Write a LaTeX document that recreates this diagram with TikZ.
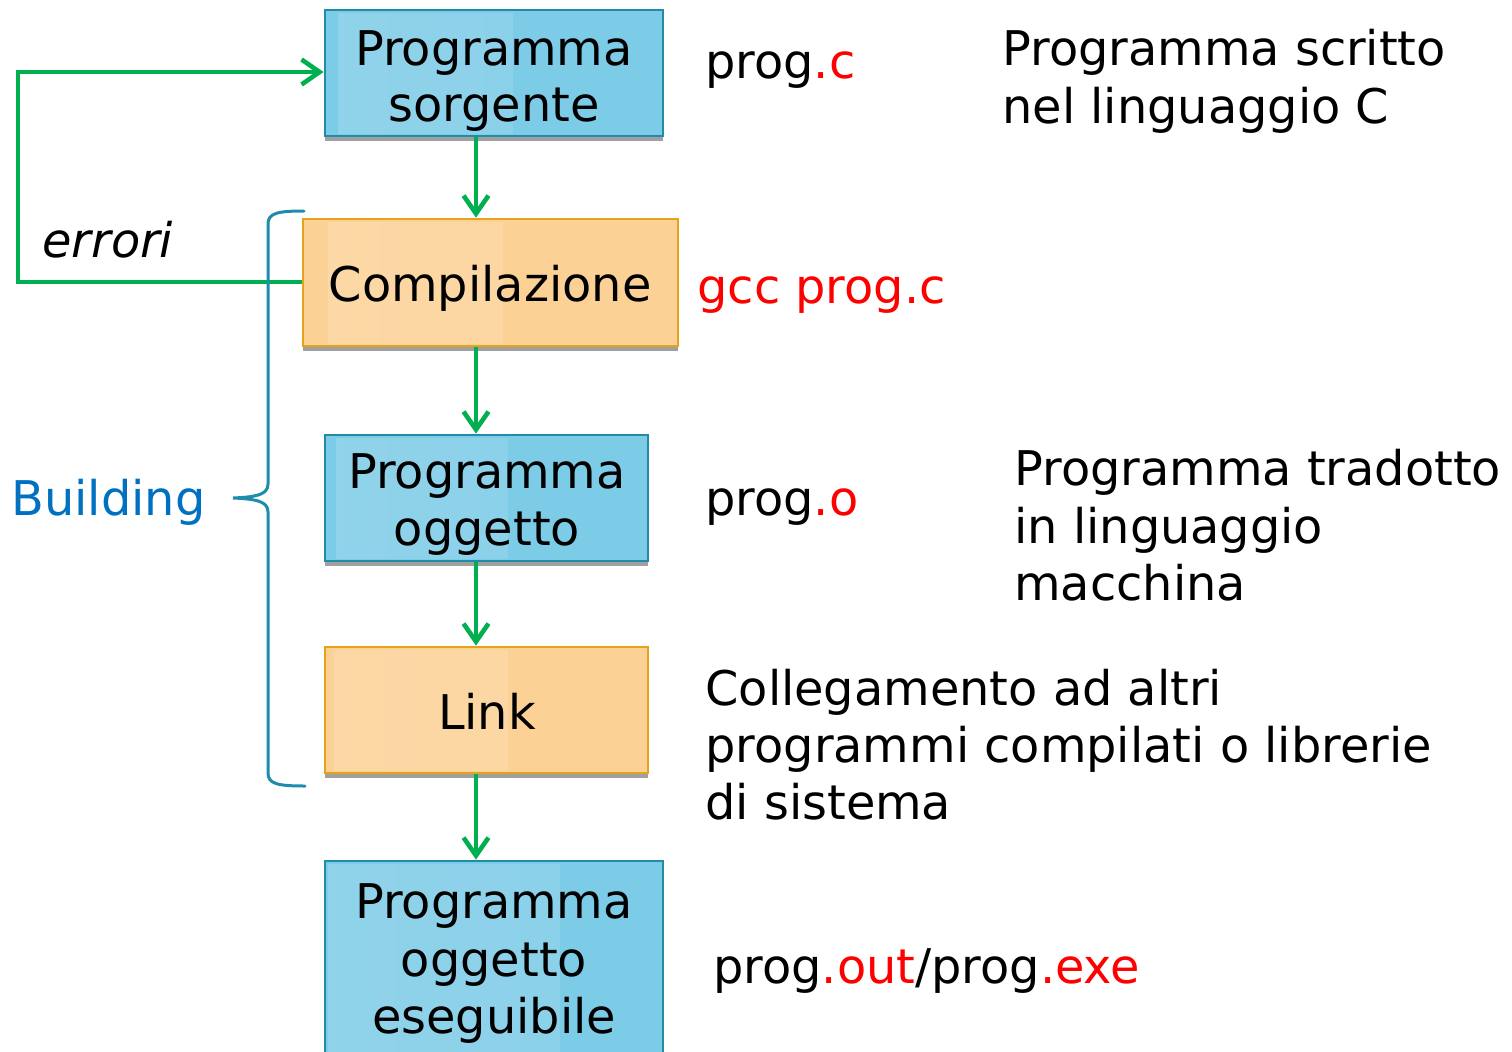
\documentclass[tikz,border=0pt]{standalone}
\usepackage{fontspec}
\setmainfont{DejaVu Sans}
\usetikzlibrary{arrows.meta,fit}

\definecolor{boxblue}{RGB}{124,203,231}
\definecolor{edgeblue}{RGB}{32,140,168}
\definecolor{boxorange}{RGB}{252,209,150}
\definecolor{edgeorange}{RGB}{230,162,24}
\definecolor{flowgreen}{RGB}{0,176,80}
\definecolor{buildblue}{RGB}{0,112,192}
\definecolor{bracecol}{RGB}{30,140,170}
\definecolor{shadowgray}{RGB}{160,160,160}

\tikzset{
  basebox/.style={rectangle, inner sep=0pt, line width=1.4pt,
    preaction={fill=shadowgray, transform canvas={yshift=-2.5pt}}},
  bluebox/.style={basebox, draw=edgeblue, fill=boxblue},
  orangebox/.style={basebox, draw=edgeorange, fill=boxorange},
  txt/.style={inner sep=0pt, font=\fontsize{23.9pt}{28.5pt}\selectfont},
  flow/.style={draw=flowgreen, line width=2.3pt,
    -{Straight Barb[length=9pt,width=12.5pt,line width=2.3pt]}},
}

\begin{document}
\begin{tikzpicture}[x=0.5pt,y=-0.5pt]
\useasboundingbox (0,0) rectangle (1512,1051);
\clip (0,0) rectangle (1512,1051);

% process boxes
\node[bluebox,   fit={(325,10) (663,136)}]   (src)  {};
\node[orangebox, fit={(303,219) (678,346)}]  (comp) {};
\node[bluebox,   fit={(325,435) (648,561)}]  (obj)  {};
\node[orangebox, fit={(325,647) (648,773)}]  (link) {};
\node[bluebox,   fit={(325,861) (663,1080)}] (exe)  {};

% soft light sheen on the left part of each box
\shade[left color=boxblue!85!white, middle color=boxblue!50!white, right color=boxblue!88!white]
  (338,13) rectangle (513,133);
\shade[left color=boxorange!85!white, middle color=boxorange!45!white, right color=boxorange!88!white]
  (328,222) rectangle (503,343);
\shade[left color=boxblue!85!white, middle color=boxblue!50!white, right color=boxblue!88!white]
  (336,438) rectangle (508,558);
\shade[left color=boxorange!85!white, middle color=boxorange!45!white, right color=boxorange!88!white]
  (334,650) rectangle (508,770);
\shade[left color=boxblue!85!white, middle color=boxblue!50!white, right color=boxblue!88!white]
  (328,864) rectangle (560,1051);

% box labels
\node[txt, anchor=base] (srcA) at (494,65)  {Programma};
\node[txt, anchor=base] (srcB) at (494,121) {sorgente};
\node[txt, anchor=base] (compA) at (490,301) {Compilazione};
\node[txt, anchor=base] (objA) at (487,488) {Programma};
\node[txt, anchor=base] (objB) at (487,545) {oggetto};
\node[txt, anchor=base] (linkA) at (487,729) {Link};
\node[txt, anchor=base] (exeA) at (494,918)  {Programma};
\node[txt, anchor=base] (exeB) at (494,976)  {oggetto};
\node[txt, anchor=base] (exeC) at (494,1033) {eseguibile};

% flow arrows
\coordinate (col) at (476,0);
\draw[flow] (src.south -| col)  -- (comp.north -| col);
\draw[flow] (comp.south -| col) -- (obj.north -| col);
\draw[flow] (obj.south -| col)  -- (link.north -| col);
\draw[flow] (link.south -| col) -- (exe.north -| col);

% error feedback loop
\coordinate (loopB) at (18,282);
\coordinate (loopT) at (18,72);
\draw[flow] (comp.west |- loopB) -- (loopB) -- (loopT) -- (src.west |- loopT);
\node[txt, anchor=base west, font=\fontsize{23.9pt}{28.5pt}\selectfont\itshape] (err) at (42,257) {errori};

% building brace
\coordinate (brTop) at (304,211);
\coordinate (brTip) at (233,498);
\coordinate (brBot) at (305,786);
\draw[bracecol, line width=1.5pt, line cap=round]
  (brTop) .. controls (278,211) and (268,213) .. (268,224)
  -- (268,484) .. controls (268,494) and (258,497) .. (brTip)
  .. controls (258,499) and (268,502) .. (268,512)
  -- (268,773) .. controls (268,784) and (278,786) .. (brBot);
\node[txt, anchor=base west, text=buildblue] (build) at (11,515) {Building};

% side notes
\node[txt, anchor=base west] (fileC) at (705,78) {prog\textcolor{red}{.c}};
\node[txt, anchor=base west] (noteA1) at (1002,65) {Programma scritto};
\node[txt, anchor=base west] (noteA2) at (1002,123) {nel linguaggio C};
\node[txt, anchor=base west, text=red] (gcc) at (697,303) {gcc prog.c};
\node[txt, anchor=base west] (fileO) at (705,515) {prog\textcolor{red}{.o}};
\node[txt, anchor=base west] (noteB1) at (1014,485) {Programma tradotto};
\node[txt, anchor=base west] (noteB2) at (1014,543) {in linguaggio};
\node[txt, anchor=base west] (noteB3) at (1014,600) {macchina};
\node[txt, anchor=base west] (noteC1) at (705,705) {Collegamento ad altri};
\node[txt, anchor=base west] (noteC2) at (705,762) {programmi compilati o librerie};
\node[txt, anchor=base west] (noteC3) at (705,819) {di sistema};
\node[txt, anchor=base west] (fileX) at (713,983)
  {prog\textcolor{red}{.out}/prog\textcolor{red}{.exe}};
\end{tikzpicture}
\end{document}
